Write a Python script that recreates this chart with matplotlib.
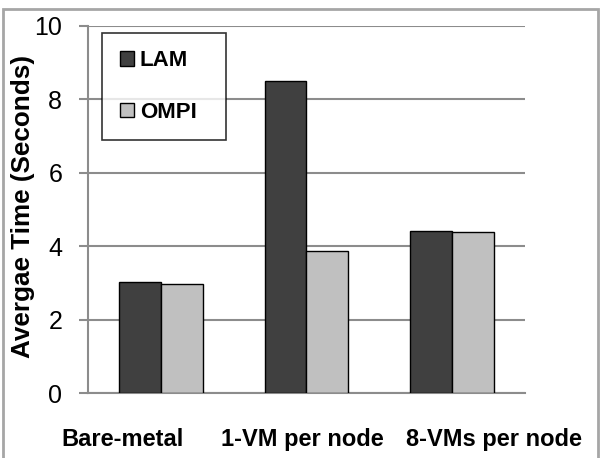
import numpy as np
import matplotlib
matplotlib.use("Agg")
import matplotlib.pyplot as plt
from matplotlib.patches import Rectangle

# data
categories = ["Bare-metal", "1-VM per node", "8-VMs per node"]
lam = [3.01, 8.49, 4.40]
ompi = [2.97, 3.86, 4.38]
yticks = [0, 2, 4, 6, 8, 10]

plt.rcParams["font.family"] = ["Liberation Sans", "DejaVu Sans"]

fig = plt.figure(figsize=(6.12, 4.58), dpi=100)
ax = fig.add_axes([0.1438, 0.1419, 0.714, 0.802])

x = np.arange(len(categories))
w = 0.288
ax.bar(x - w / 2, lam, w, color="#404040", edgecolor="black", linewidth=1, label="LAM", zorder=3)
ax.bar(x + w / 2, ompi, w, color="#c0c0c0", edgecolor="black", linewidth=1, label="OMPI", zorder=3)

grid_c = "#8c8c8c"
ax.set_xlim(-0.5, 2.5)
ax.set_ylim(0, 10)
ax.set_yticks(yticks)
ax.yaxis.grid(True, color=grid_c, linewidth=1.5, zorder=0)
ax.tick_params(axis="y", length=6.5, width=1.5, color=grid_c, labelsize=18, pad=12)

# x labels sit off the group centres in the original (wrapped text boxes)
label_pos = [-0.265, 0.97, 2.29]
ax.set_xticks(label_pos, categories, fontweight="bold", fontsize=17)
ax.tick_params(axis="x", length=0, pad=25)

for s in ["top", "right"]:
    ax.spines[s].set_visible(False)
for s in ["left", "bottom"]:
    ax.spines[s].set_color(grid_c)
    ax.spines[s].set_linewidth(1.5)

ax.set_ylabel("Avergae Time (Seconds)", fontweight="bold", fontsize=18.8)
ax.yaxis.set_label_coords(-0.122, 0.508)

leg = ax.legend(loc="upper left", bbox_to_anchor=(0.032, 0.5, 0.284, 0.481),
                mode="expand", borderaxespad=0,
                prop={"weight": "bold", "size": 16}, fancybox=False,
                handlelength=0.63, handleheight=0.63, handletextpad=0.27,
                labelspacing=1.36, borderpad=0.8)
leg.get_frame().set_edgecolor("black")
leg.get_frame().set_linewidth(1.2)

# grey outer border of the chart area (bottom edge is cut off)
fig.patches.append(Rectangle((3 / 612, -0.05), 595 / 612, 1.05 - 9 / 458,
                             transform=fig.transFigure, fill=False,
                             edgecolor="#a6a6a6", linewidth=2))

fig.savefig("out.png", dpi=100)
